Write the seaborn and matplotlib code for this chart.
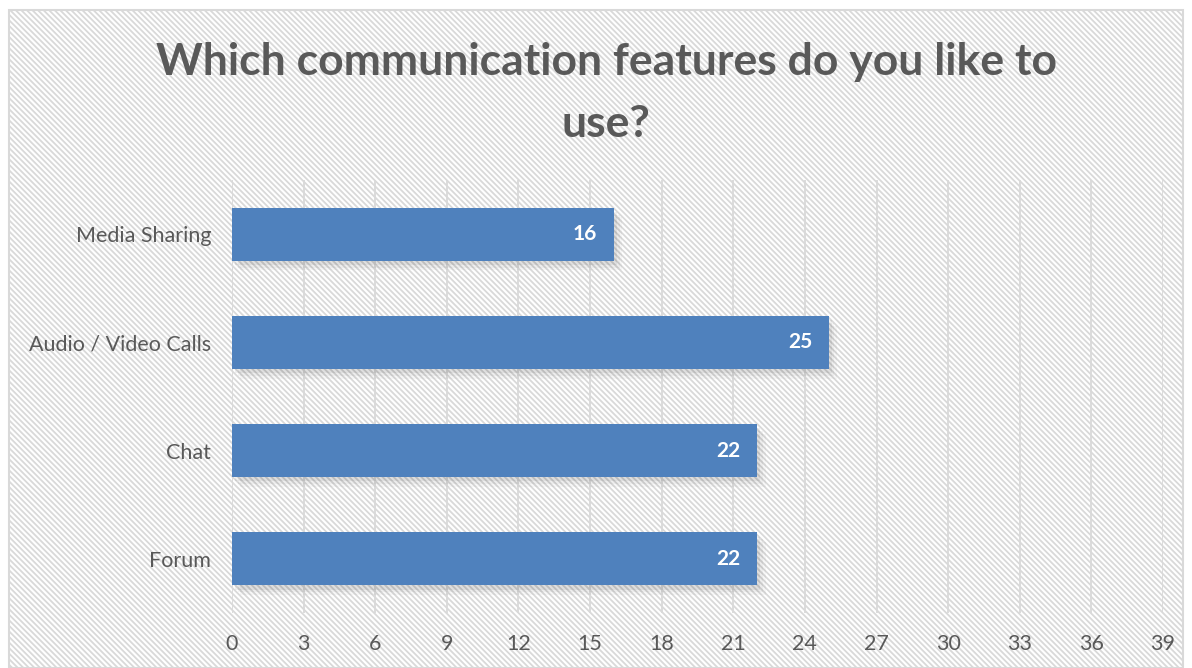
import matplotlib
matplotlib.use("Agg")
import matplotlib.pyplot as plt
import matplotlib.patheffects as pe
from matplotlib.patches import Rectangle
import seaborn as sns
import pandas as pd

categories = ["Media Sharing", "Audio / Video Calls", "Chat", "Forum"]
counts = [16, 25, 22, 22]
x_ticks = [0, 3, 6, 9, 12, 15, 18, 21, 24, 27, 30, 33, 36, 39]
title = "Which communication features do you like to\nuse?"

sns.set_theme(style="white")
plt.rcParams["font.family"] = ["Lato", "DejaVu Sans"]
plt.rcParams["hatch.color"] = "#f5f5f5"
plt.rcParams["hatch.linewidth"] = 1.3

text_color = "#595959"
bar_color = "#4f81bd"
grid_color = "#d9d9d9"

df = pd.DataFrame({"feature": categories, "count": counts})

fig = plt.figure(figsize=(11.92, 6.68), dpi=100)
fig.patch.set_facecolor("white")

# chart frame with a fine diagonal texture
frame = Rectangle((9 / 1192, 0), 1 - 18 / 1192, 1 - 10 / 668,
                  transform=fig.transFigure, facecolor="white",
                  edgecolor="#d9d9d9", linewidth=1.5, hatch="\\\\\\\\\\\\",
                  zorder=-5)
fig.patches.append(frame)

ax = fig.add_axes([232 / 1192, 1 - 613 / 668, (1163 - 232) / 1192, (613 - 180) / 668])
ax.set_zorder(2)
ax.patch.set_alpha(0)

sns.barplot(data=df, y="feature", x="count", orient="h", color=bar_color,
            saturation=1, width=0.49, linewidth=0, ax=ax, zorder=3)

# soft drop shadow under each bar
for bar in ax.patches:
    bar.set_path_effects([
        pe.SimplePatchShadow(offset=(6, -7), shadow_rgbFace="#000000", alpha=0.03),
        pe.SimplePatchShadow(offset=(4, -5), shadow_rgbFace="#000000", alpha=0.04),
        pe.SimplePatchShadow(offset=(2, -3), shadow_rgbFace="#000000", alpha=0.06),
        pe.Normal(),
    ])

# value labels inside the end of each bar
for i, v in enumerate(counts):
    ax.annotate(str(v), xy=(v, i), xytext=(-12, 0), textcoords="offset points",
                ha="right", va="center", color="white", fontweight="bold",
                fontsize=15, zorder=5)

ax.set_xlim(0, 39)
ax.set_xticks(x_ticks)
ax.set_xticklabels([str(t) for t in x_ticks])
ax.grid(axis="x", color=grid_color, linewidth=1.3, zorder=0)
ax.set_axisbelow(True)
for s in ax.spines.values():
    s.set_visible(False)
ax.set_xlabel("")
ax.set_ylabel("")
ax.tick_params(axis="x", colors=text_color, labelsize=15.5, pad=15, length=0)
ax.tick_params(axis="y", colors=text_color, labelsize=15.5, pad=15, length=0)

title_text = fig.text(606 / 1192, 1 - 93 / 668, title, ha="center", va="center",
                      fontsize=32, fontweight="bold", color=text_color,
                      linespacing=1.68)
title_text.set_zorder(3)

fig.savefig("out.png", dpi=100)
